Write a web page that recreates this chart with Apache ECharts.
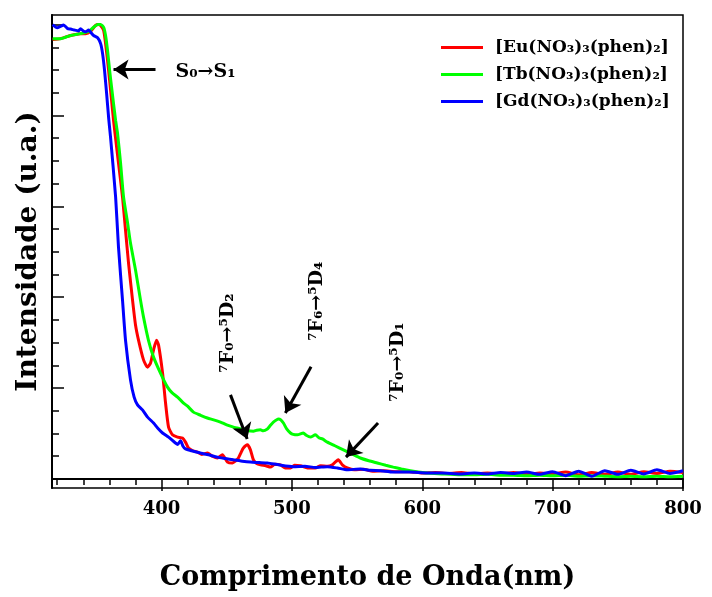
<!DOCTYPE html>
<html>
<head>
<meta charset="utf-8">
<script src="https://cdn.jsdelivr.net/npm/echarts@6/dist/echarts.min.js"></script>
<style>
  html, body { margin: 0; padding: 0; background: #fff; }
  #main { width: 712px; height: 597px; }
</style>
</head>
<body>
<div id="main"></div>
<script>
// wavelength (nm) and normalised intensity
var euX = [316.5, 322.6, 330.3, 337.9, 341.8, 345.6, 349.4, 351.7, 353.3, 355.6, 357.1, 358.6, 360.2, 361.7, 363.2, 364.8, 367.0, 370.1, 372.4, 374.7, 377.8, 380, 382.4, 386.2, 389.3, 391.6, 393.9, 396.2, 397.7, 400.8, 403.1, 405.4, 408.4, 412.3, 416.1, 418.4, 420.7, 424, 427.6, 431, 435.2, 439, 442.9, 446.7, 450.6, 454.4, 457, 459.0, 461, 462.8, 465.9, 468.2, 470.5, 473, 475.9, 480, 483.5, 487, 491.2, 495, 498.9, 502, 506.5, 512, 518.0, 522, 527.2, 531, 533.3, 535.6, 538.7, 542.5, 548, 555, 562, 570, 580, 590, 600, 610, 620, 630, 640, 650, 660, 670, 680, 690, 700, 710, 720, 730, 740, 750, 760, 770, 780, 790, 800];
var euY = [0.967, 0.969, 0.976, 0.980, 0.980, 0.985, 0.998, 1.000, 0.998, 0.987, 0.958, 0.921, 0.877, 0.833, 0.789, 0.749, 0.695, 0.620, 0.547, 0.475, 0.393, 0.340, 0.305, 0.262, 0.246, 0.255, 0.284, 0.305, 0.295, 0.233, 0.167, 0.114, 0.097, 0.092, 0.090, 0.081, 0.068, 0.062, 0.059, 0.054, 0.057, 0.050, 0.046, 0.053, 0.037, 0.035, 0.040, 0.046, 0.058, 0.068, 0.075, 0.064, 0.042, 0.034, 0.031, 0.029, 0.026, 0.032, 0.031, 0.024, 0.024, 0.030, 0.029, 0.024, 0.024, 0.029, 0.028, 0.031, 0.037, 0.042, 0.031, 0.024, 0.020, 0.021, 0.017, 0.018, 0.016, 0.016, 0.013, 0.014, 0.012, 0.014, 0.011, 0.013, 0.011, 0.014, 0.010, 0.013, 0.011, 0.015, 0.009, 0.014, 0.010, 0.015, 0.010, 0.016, 0.012, 0.017, 0.014];

var tbX = [316.5, 322.6, 330.3, 337.9, 344.1, 347.9, 351.0, 353.3, 355.6, 357.1, 358.6, 360.2, 361.7, 363.2, 364.8, 366.3, 368.6, 370.9, 374.0, 376.2, 380.1, 383.9, 386.2, 390.0, 393.9, 399.2, 404.6, 408, 412.3, 416.9, 420, 424.5, 430, 435.2, 440, 445.2, 450, 455.2, 458, 462.8, 466, 470.5, 473, 475.9, 478, 481.2, 483, 485.8, 489.7, 491.5, 493.5, 496, 498.9, 501, 504.2, 508.8, 511, 514.2, 518.0, 521, 523.4, 527.2, 533, 539.5, 546, 552.5, 559, 565.5, 572, 577.8, 584, 590.8, 597, 603.8, 615, 629.1, 640, 650, 660, 670, 680, 690, 700, 710, 720, 730, 740, 750, 760, 770, 780, 790, 800];
var tbY = [0.969, 0.969, 0.976, 0.980, 0.985, 0.994, 1.000, 1.000, 0.994, 0.976, 0.943, 0.899, 0.862, 0.826, 0.789, 0.760, 0.695, 0.620, 0.563, 0.519, 0.459, 0.393, 0.356, 0.305, 0.268, 0.233, 0.202, 0.190, 0.180, 0.167, 0.160, 0.147, 0.140, 0.134, 0.130, 0.125, 0.119, 0.114, 0.112, 0.108, 0.106, 0.105, 0.107, 0.108, 0.106, 0.110, 0.116, 0.125, 0.132, 0.130, 0.123, 0.110, 0.101, 0.098, 0.097, 0.101, 0.096, 0.092, 0.097, 0.090, 0.088, 0.081, 0.073, 0.064, 0.055, 0.046, 0.040, 0.035, 0.030, 0.026, 0.022, 0.018, 0.015, 0.013, 0.011, 0.009, 0.009, 0.010, 0.008, 0.008, 0.007, 0.008, 0.007, 0.008, 0.006, 0.007, 0.006, 0.005, 0.006, 0.005, 0.006, 0.005, 0.006];

var gdX = [316.5, 320, 322.6, 324.9, 328, 330.3, 333, 336.4, 337.9, 340, 341.8, 344.1, 346, 347.9, 351.0, 353.3, 354.8, 356.3, 357.9, 359.4, 360.9, 364.8, 367.0, 370.1, 372.4, 376.2, 379, 381.6, 385.4, 389.3, 393.9, 397, 400.8, 405.4, 410.7, 412.5, 414.6, 416.5, 418.4, 423, 429.9, 436, 442.9, 449, 455.2, 462, 468.2, 475, 481.2, 490, 501.1, 510, 518, 527.2, 535, 542.5, 552.5, 560, 568, 577.8, 590, 603.8, 615, 629.1, 640, 650, 660, 670, 680, 690, 700, 710, 720, 730, 740, 750, 760, 770, 780, 790, 800];
var gdY = [1.000, 0.993, 0.996, 0.999, 0.991, 0.990, 0.988, 0.986, 0.991, 0.986, 0.984, 0.988, 0.982, 0.976, 0.971, 0.958, 0.936, 0.899, 0.848, 0.796, 0.752, 0.620, 0.510, 0.393, 0.305, 0.218, 0.180, 0.163, 0.152, 0.136, 0.123, 0.112, 0.101, 0.092, 0.079, 0.076, 0.084, 0.072, 0.066, 0.062, 0.057, 0.053, 0.048, 0.045, 0.042, 0.039, 0.037, 0.036, 0.035, 0.031, 0.027, 0.028, 0.025, 0.027, 0.024, 0.020, 0.022, 0.019, 0.018, 0.015, 0.015, 0.013, 0.013, 0.011, 0.013, 0.011, 0.014, 0.012, 0.015, 0.010, 0.016, 0.007, 0.017, 0.006, 0.018, 0.010, 0.019, 0.011, 0.020, 0.012, 0.018];

var seriesNames = ['[Eu(NO₃)₃(phen)₂]', '[Tb(NO₃)₃(phen)₂]', '[Gd(NO₃)₃(phen)₂]'];
var xMajor = [400, 500, 600, 700, 800];
var xMinor = [320, 340, 360, 380, 420, 440, 460, 480, 520, 540, 560, 580, 620, 640, 660, 680, 720, 740, 760, 780];
var yMajor = [0, 0.2, 0.4, 0.6, 0.8, 1.0];
var yMinor = [0.05, 0.1, 0.15, 0.25, 0.3, 0.35, 0.45, 0.5, 0.55, 0.65, 0.7, 0.75, 0.85, 0.9, 0.95];

// annotation texts and arrows (data coordinates)
var noteText = ['S₀→S₁', '⁷F₀→⁵D₂', '⁷F₆→⁵D₄', '⁷F₀→⁵D₁'];
var noteAt = [[433.8, 0.895], [451.4, 0.321], [519.5, 0.391], [581.6, 0.257]];
var noteRot = [0, 90, 90, 90];
var arrows = [
    [[395.4, 0.901], [363.2, 0.901]],
    [[452.9, 0.185], [465.7, 0.088]],
    [[514.7, 0.247], [495.0, 0.145]],
    [[566.1, 0.123], [541.5, 0.048]]
];

var FONT = 'DejaVu Serif';

function pairs(xs, ys) {
    return xs.map(function (x, i) { return [x, ys[i]]; });
}

var chart = echarts.init(document.getElementById('main'), null, { renderer: 'canvas' });

var baseLine = {
    type: 'line',
    showSymbol: false,
    symbol: 'none',
    smooth: 0.2,
    lineStyle: { width: 3 },
    xAxisIndex: 0,
    yAxisIndex: 0
};

chart.setOption({
    animation: false,
    backgroundColor: '#fff',
    color: ['#ff0000', '#00ff00', '#0000ff'],
    grid: {
        left: 52, right: 29, top: 15, bottom: 109,
        show: true, borderColor: '#000', borderWidth: 1.5
    },
    legend: {
        orient: 'vertical',
        left: 436,
        top: 34,
        icon: 'rect',
        itemWidth: 42,
        itemHeight: 3,
        itemGap: 10,
        data: seriesNames,
        textStyle: {
            fontFamily: FONT, fontWeight: 'bold', fontSize: 17, color: '#000',
            padding: [0, 0, 0, 7]
        }
    },
    xAxis: [
        {
            type: 'value', min: 316, max: 800, position: 'bottom',
            axisLine: { lineStyle: { color: '#000', width: 2 } },
            axisTick: { customValues: xMajor, length: 12, lineStyle: { color: '#000', width: 1.5 } },
            axisLabel: {
                customValues: xMajor, color: '#000', fontFamily: FONT,
                fontWeight: 'bold', fontSize: 18, margin: 12
            },
            splitLine: { show: false },
            name: 'Comprimento de Onda(nm)',
            nameLocation: 'middle',
            nameGap: 76,
            nameTextStyle: { fontFamily: FONT, fontWeight: 'bold', fontSize: 27, color: '#000' }
        },
        {
            type: 'value', min: 316, max: 800, position: 'bottom',
            axisLine: { show: false },
            axisTick: { customValues: xMinor, length: 6, lineStyle: { color: '#000', width: 1.5 } },
            axisLabel: { show: false },
            splitLine: { show: false }
        }
    ],
    yAxis: [
        {
            type: 'value', min: -0.02, max: 1.021, position: 'left',
            axisLine: { show: true, lineStyle: { color: '#000', width: 2 } },
            axisTick: { show: true, inside: true, customValues: yMajor, length: 12, lineStyle: { color: '#000', width: 1.5 } },
            axisLabel: { show: false },
            splitLine: { show: false },
            name: 'Intensidade (u.a.)',
            nameLocation: 'middle',
            nameRotate: 90,
            nameGap: 9,
            nameTextStyle: { fontFamily: FONT, fontWeight: 'bold', fontSize: 28, color: '#000' }
        },
        {
            type: 'value', min: -0.02, max: 1.021, position: 'left',
            axisLine: { show: false },
            axisTick: { show: true, inside: true, customValues: yMinor, length: 7, lineStyle: { color: '#000', width: 1.5 } },
            axisLabel: { show: false },
            splitLine: { show: false }
        }
    ],
    series: [
        Object.assign({}, baseLine, {
            name: seriesNames[0],
            data: pairs(euX, euY),
            markPoint: {
                silent: true,
                symbol: 'circle',
                symbolSize: 0,
                data: noteText.map(function (t, i) {
                    return {
                        coord: noteAt[i],
                        label: {
                            show: true, position: 'inside', formatter: t, rotate: noteRot[i],
                            color: '#000', fontFamily: FONT, fontWeight: 'bold', fontSize: 19
                        }
                    };
                })
            }
        }),
        Object.assign({}, baseLine, { name: seriesNames[1], data: pairs(tbX, tbY) }),
        Object.assign({}, baseLine, {
            name: seriesNames[2],
            data: pairs(gdX, gdY),
            markLine: {
                silent: true,
                symbol: ['none', 'arrow'],
                symbolSize: 15,
                label: { show: false },
                lineStyle: { color: '#000', width: 3, type: 'solid' },
                data: arrows.map(function (a) {
                    return [{ coord: a[0] }, { coord: a[1] }];
                })
            }
        })
    ]
});
</script>
</body>
</html>
